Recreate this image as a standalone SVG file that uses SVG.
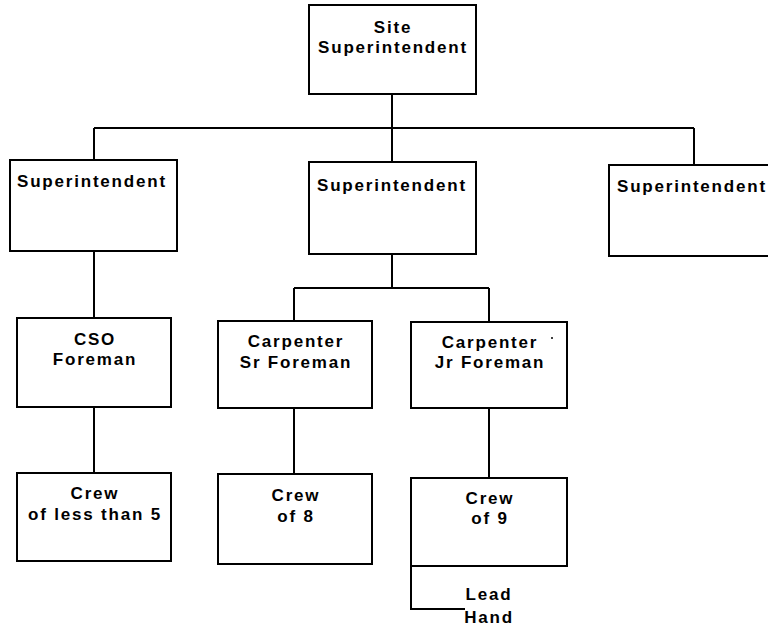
<svg xmlns="http://www.w3.org/2000/svg" width="768" height="628" viewBox="0 0 768 628">
<style>
rect{fill:#fff;stroke:#000;stroke-width:2}
.c line,.c polyline{stroke:#000;stroke-width:2;fill:none}
text{font-family:"Liberation Sans",Arial,sans-serif;font-size:17px;font-weight:bold;letter-spacing:1.8px;fill:#000}
.m{text-anchor:middle}
</style>
<rect width="768" height="628" style="stroke:none"/>
<g class="c" id="connectors">
<line x1="392" y1="94" x2="392" y2="162"/>
<line x1="94" y1="128" x2="694" y2="128"/>
<line x1="94" y1="128" x2="94" y2="160"/>
<line x1="694" y1="128" x2="694" y2="165"/>
<line x1="94" y1="251" x2="94" y2="318"/>
<line x1="392" y1="254" x2="392" y2="288"/>
<line x1="294" y1="288" x2="489" y2="288"/>
<line x1="294" y1="288" x2="294" y2="321"/>
<line x1="489" y1="288" x2="489" y2="322"/>
<line x1="94" y1="407" x2="94" y2="473"/>
<line x1="294" y1="408" x2="294" y2="474"/>
<line x1="489" y1="408" x2="489" y2="478"/>
<polyline points="411,566 411,609 465,609"/>
</g>
<g id="site">
<rect x="309" y="5" width="167" height="89"/>
<text class="m" x="393" y="33">Site</text>
<text class="m" x="393" y="53">Superintendent</text>
</g>
<g id="sup1">
<rect x="10" y="160" width="167" height="91"/>
<text x="17" y="187">Superintendent</text>
</g>
<g id="sup2">
<rect x="309" y="162" width="167" height="92"/>
<text x="317" y="191">Superintendent</text>
</g>
<g id="sup3">
<rect x="609" y="165" width="170" height="91"/>
<text x="617" y="192">Superintendent</text>
</g>
<g id="cso">
<rect x="17" y="318" width="154" height="89"/>
<text class="m" x="95" y="345">CSO</text>
<text class="m" x="95" y="365">Foreman</text>
</g>
<g id="sr">
<rect x="218" y="321" width="154" height="87"/>
<text class="m" x="296" y="347">Carpenter</text>
<text class="m" x="296" y="368">Sr Foreman</text>
</g>
<g id="jr">
<rect x="411" y="322" width="156" height="86"/>
<text class="m" x="490" y="348">Carpenter</text>
<text class="m" x="490" y="368">Jr Foreman</text>
<circle cx="552" cy="338" r="1" fill="#000"/>
</g>
<g id="crew5">
<rect x="17" y="473" width="154" height="88"/>
<text class="m" x="95" y="499">Crew</text>
<text class="m" x="95" y="520">of less than 5</text>
</g>
<g id="crew8">
<rect x="218" y="474" width="154" height="90"/>
<text class="m" x="296" y="501">Crew</text>
<text class="m" x="296" y="522">of 8</text>
</g>
<g id="crew9">
<rect x="411" y="478" width="156" height="88"/>
<text class="m" x="490" y="504">Crew</text>
<text class="m" x="490" y="524">of 9</text>
</g>
<g id="lead">
<text class="m" x="489" y="600">Lead</text>
<text class="m" x="489" y="623">Hand</text>
</g>
</svg>
